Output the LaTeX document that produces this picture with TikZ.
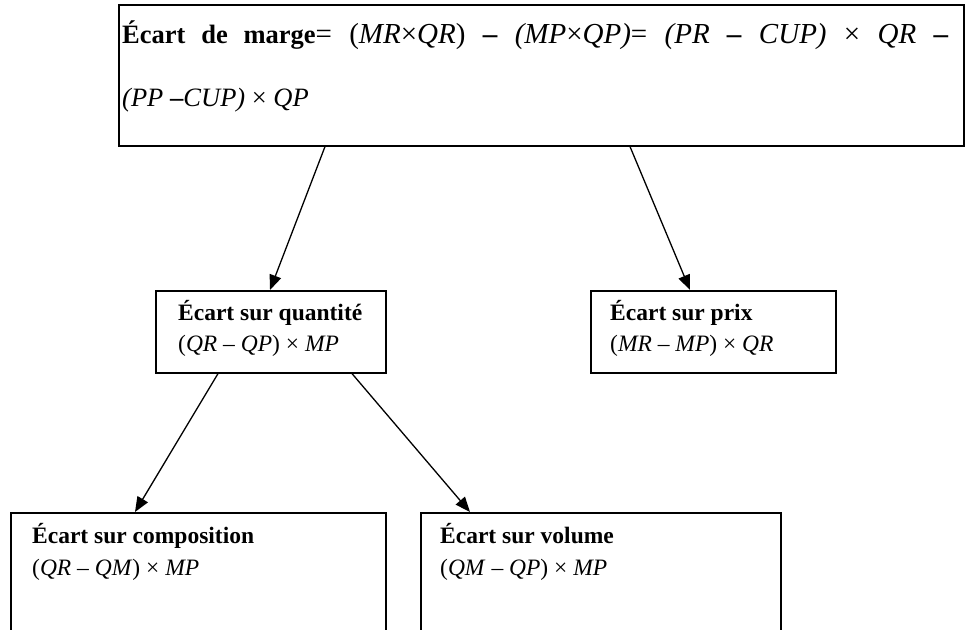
\documentclass[tikz,border=0pt]{standalone}
\usepackage{fontspec}
\setmainfont{Liberation Serif}
\usetikzlibrary{arrows.meta}

\begin{document}
\begin{tikzpicture}[x=1pt,y=-1pt,>={Triangle[length=15pt,width=12pt]},line join=miter,
  box/.style={draw,line width=1.6pt,anchor=north west,inner sep=0pt,rectangle},
  txt/.style={anchor=base west,inner sep=0pt,font=\fontsize{23.5}{28}\selectfont},
  bigtxt/.style={txt,font=\fontsize{29}{35}\selectfont},
  link/.style={->,line width=1.3pt}]
  \useasboundingbox (0,0) rectangle (968,629);
  \clip (0,0) rectangle (968,629);
  % boxes
  \node[box,minimum width=845pt,minimum height=141pt] (marge) at (118,4) {};
  \node[box,minimum width=230pt,minimum height=82pt] (qte) at (155,290) {};
  \node[box,minimum width=245pt,minimum height=82pt] (prix) at (590,290) {};
  \node[box,minimum width=375pt,minimum height=140pt] (compo) at (10,512) {};
  \node[box,minimum width=360pt,minimum height=140pt] (vol) at (420,512) {};
  % texts
  \node[bigtxt] (margeA) at (122,43) {\makebox[826pt][s]{{\fontsize{26.5}{32}\selectfont\textbf{Écart de marge}}= (\textit{MR}×\textit{QR}) \textbf{–} \textit{(MP}×\textit{QP)}= \textit{(PR} \textbf{–} \textit{CUP)} × \textit{QR} \textbf{–}}};
  \node[bigtxt,font=\fontsize{26.5}{32}\selectfont] (margeB) at (122,106) {\textit{(PP} \textbf{–}\textit{CUP)} × \textit{QP}};
  \node[txt] (qteA) at (178,320) {\textbf{Écart sur quantité}};
  \node[txt] (qteB) at (178,351) {(\textit{QR} – \textit{QP}) × \textit{MP}};
  \node[txt] (prixA) at (610,320) {\textbf{Écart sur prix}};
  \node[txt] (prixB) at (610,351) {(\textit{MR} – \textit{MP}) × \textit{QR}};
  \node[txt] (compoA) at (32,543) {\textbf{Écart sur composition}};
  \node[txt] (compoB) at (32,575) {(\textit{QR} – \textit{QM}) × \textit{MP}};
  \node[txt] (volA) at (440,543) {\textbf{Écart sur volume}};
  \node[txt] (volB) at (440,575) {(\textit{QM} – \textit{QP}) × \textit{MP}};
  % arrows
  \draw[link] (marge.south -| 325,0) -- (qte.north -| 270,0);
  \draw[link] (marge.south -| 630,0) -- (prix.north -| 690,0);
  \draw[link] (qte.south -| 218,0) -- (compo.north -| 135,0);
  \draw[link] (qte.south -| 352,0) -- (vol.north -| 470,0);
\end{tikzpicture}
\end{document}
